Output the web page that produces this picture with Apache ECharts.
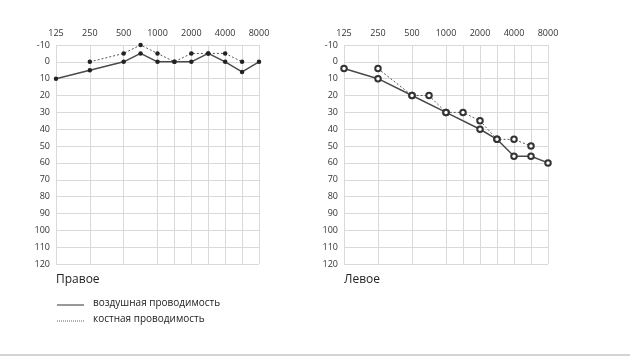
<!DOCTYPE html>
<html><head><meta charset="utf-8">
<script src="https://cdn.jsdelivr.net/npm/echarts@6/dist/echarts.min.js"></script>
<style>html,body{margin:0;padding:0;background:#fff}#c{width:630px;height:356px}</style>
</head><body><div id="c"></div>
<script>
// Frequency positions (category axis, evenly spaced)
const freqCats = ['125','177','250','354','500','750','1000','1500','2000','3000','4000','6000','8000'];
const tickLabels = ['125','250','500','1000','2000','4000','8000'];
const gridFreqs = ['125','250','500','1000','1500','2000','3000','4000','6000','8000'];
const dbMin = -10, dbMax = 120, dbStep = 10;

// Right ear (Правое)
const rightAirFreqs = ['125','250','500','750','1000','1500','2000','3000','4000','6000','8000'];
const rightAirDb    = [10, 5, 0, -5, 0, 0, 0, -5, 0, 6, 0];
const rightBoneFreqs = ['250','500','750','1000','1500','2000','3000','4000','6000'];
const rightBoneDb    = [0, -5, -10, -5, 0, -5, -5, -5, 0];

// Left ear (Левое)
const leftAirFreqs = ['125','250','500','1000','2000','3000','4000','6000','8000'];
const leftAirDb    = [4, 10, 20, 30, 40, 46, 56, 56, 60];
const leftBoneFreqs = ['250','500','750','1000','1500','2000','3000','4000','6000'];
const leftBoneDb    = [4, 20, 20, 30, 30, 35, 46, 46, 50];

const panelTitles = ['Правое', 'Левое'];
const legendLabels = ['воздушная проводимость', 'костная проводимость'];

const FONT = '"Open Sans", "DejaVu Sans", sans-serif';
const gridColor = '#d9d9d9';
const lineColor = '#4a4a4a';

function pairs(f, v) { return f.map((x, i) => [x, v[i]]); }

function xAxis(gi) {
  return {
    type: 'category', gridIndex: gi, data: freqCats, boundaryGap: false, position: 'top',
    axisLine: { show: false }, axisTick: { show: false },
    axisLabel: { interval: (i, v) => tickLabels.includes(v), color: '#333', fontSize: 9, fontFamily: FONT, margin: 7 },
    splitLine: { show: true, interval: (i, v) => gridFreqs.includes(v), lineStyle: { color: gridColor, width: 1 } }
  };
}
function yAxis(gi) {
  return {
    type: 'value', gridIndex: gi, min: dbMin, max: dbMax, interval: dbStep, inverse: true,
    axisLine: { show: false }, axisTick: { show: false },
    axisLabel: { color: '#333', fontSize: 9, fontFamily: FONT, margin: 6 },
    splitLine: { show: true, lineStyle: { color: gridColor, width: 1 } }
  };
}
function markerStyle(symbol) {
  return symbol === 'circle'
    ? { color: '#222', borderWidth: 0 }
    : { color: '#333', borderColor: '#333', borderWidth: 1 };
}
function airSeries(gi, name, data, symbol, size) {
  return { type: 'line', name, xAxisIndex: gi, yAxisIndex: gi, data, symbol, symbolSize: size,
    showAllSymbol: true,
    lineStyle: { color: lineColor, width: 1.5, type: 'solid' },
    itemStyle: markerStyle(symbol), z: 3, animation: false };
}
function boneSeries(gi, name, data, symbol, size) {
  return { type: 'line', name, xAxisIndex: gi, yAxisIndex: gi, data, symbol, symbolSize: size,
    showAllSymbol: true,
    lineStyle: { color: '#555', width: 1, type: [2, 2] },
    itemStyle: markerStyle(symbol), z: 2, animation: false };
}

const chart = echarts.init(document.getElementById('c'), null, { renderer: 'canvas' });
chart.setOption({
  animation: false,
  backgroundColor: '#fff',
  textStyle: { fontFamily: FONT },
  grid: [
    { left: 56, top: 45, width: 203, height: 219, containLabel: false },
    { left: 344, top: 45, width: 204, height: 219, containLabel: false }
  ],
  xAxis: [xAxis(0), xAxis(1)],
  yAxis: [yAxis(0), yAxis(1)],
  series: [
    boneSeries(0, legendLabels[1], pairs(rightBoneFreqs, rightBoneDb), 'circle', 4.5),
    airSeries(0, legendLabels[0], pairs(rightAirFreqs, rightAirDb), 'circle', 4.5),
    boneSeries(1, legendLabels[1], pairs(leftBoneFreqs, leftBoneDb), 'emptyCircle', 5.5),
    airSeries(1, legendLabels[0], pairs(leftAirFreqs, leftAirDb), 'emptyCircle', 5.5)
  ],
  graphic: [
    { type: 'text', left: 56, top: 274, style: { text: panelTitles[0], font: '12px ' + FONT, fill: '#222' } },
    { type: 'text', left: 344, top: 274, style: { text: panelTitles[1], font: '12px ' + FONT, fill: '#222' } },
    { type: 'line', shape: { x1: 57, y1: 305, x2: 84, y2: 305 }, style: { stroke: '#333', lineWidth: 1 } },
    { type: 'line', shape: { x1: 57, y1: 321, x2: 84, y2: 321 }, style: { stroke: '#666', lineWidth: 1, lineDash: [1, 1] } },
    { type: 'text', left: 93, top: 298, style: { text: legendLabels[0], font: '10px ' + FONT, fill: '#222' } },
    { type: 'text', left: 93, top: 314, style: { text: legendLabels[1], font: '10px ' + FONT, fill: '#222' } },
    { type: 'rect', shape: { x: 0, y: 354, width: 630, height: 2 }, style: { fill: '#d4d4d4' } }
  ]
});
</script>
</body></html>
